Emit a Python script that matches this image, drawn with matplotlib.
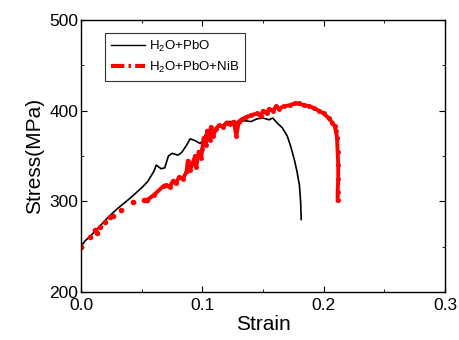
import matplotlib
matplotlib.use("Agg")
import matplotlib.pyplot as plt
from matplotlib.lines import Line2D
from matplotlib.ticker import MultipleLocator, FormatStrFormatter

plt.rcParams['font.family'] = ['Liberation Sans', 'DejaVu Sans']
plt.rcParams['mathtext.fontset'] = 'custom'
plt.rcParams['mathtext.rm'] = 'Liberation Sans'
plt.rcParams['mathtext.default'] = 'regular'

black_x = [0, 0.003, 0.008, 0.015, 0.022, 0.03, 0.04, 0.05, 0.055, 0.06, 0.062, 0.066, 0.069,
           0.072, 0.075, 0.08, 0.083, 0.087, 0.09, 0.094, 0.098, 0.1, 0.103, 0.106, 0.109,
           0.112, 0.116, 0.12, 0.125, 0.13, 0.135, 0.14, 0.145, 0.15, 0.155, 0.158, 0.162,
           0.166, 0.17, 0.173, 0.176, 0.178, 0.18, 0.181, 0.1815]
black_y = [250, 256, 262, 272, 282, 292, 303, 315, 322, 333, 340, 336, 337,
           350, 353, 351, 354, 362, 369, 367, 364, 366, 375, 380, 377,
           381, 383, 388, 388, 387, 389, 388, 391, 392, 390, 392, 386,
           381, 372, 360, 345, 333, 318, 300, 280]

red_x = [0, 0.007, 0.0115, 0.013, 0.016, 0.02, 0.024, 0.026, 0.033, 0.043, 0.052, 0.054,
         0.06, 0.068, 0.07, 0.073, 0.076, 0.078, 0.081, 0.084, 0.087, 0.088, 0.09, 0.092,
         0.094, 0.095, 0.097, 0.099, 0.1, 0.101, 0.103, 0.104, 0.106, 0.107, 0.109, 0.111,
         0.114, 0.117, 0.12, 0.123, 0.126, 0.128, 0.13, 0.133, 0.136, 0.14, 0.145, 0.148,
         0.15, 0.153, 0.155, 0.158, 0.161, 0.163, 0.167, 0.172, 0.176, 0.18, 0.184, 0.188,
         0.192, 0.196, 0.2, 0.204, 0.207, 0.209, 0.21, 0.211, 0.2115, 0.212, 0.212, 0.2115,
         0.2115]
red_y = [250, 261, 268, 265, 272, 277, 283, 284, 291, 299, 302, 301,
         307, 317, 318, 316, 323, 320, 327, 325, 333, 345, 335, 342,
         350, 338, 355, 348, 358, 370, 362, 378, 368, 382, 372, 380,
         384, 382, 387, 385, 388, 372, 388, 391, 393, 395, 397, 394,
         400, 397, 402, 400, 405, 402, 405, 406, 408, 408, 406, 405,
         403, 400, 397, 392, 387, 383, 378, 370, 355, 340, 325, 310,
         301]

labels = ['H$_2$O+PbO', 'H$_2$O+PbO+NiB']

fig = plt.figure(figsize=(4.59, 3.40), dpi=100)
ax = fig.add_axes([0.1765, 0.141, 0.793, 0.8])

ax.plot(black_x, black_y, color='black', lw=1.2)
n_sparse = 12
ax.plot(red_x[:n_sparse], red_y[:n_sparse], ls='none', marker='o', ms=3,
        color='red', mec='red')
ax.plot(red_x[n_sparse - 1:], red_y[n_sparse - 1:], color='red', lw=2.8,
        marker='o', ms=2.5)

ax.set_xlim(0, 0.3)
ax.set_ylim(200, 500)
ax.xaxis.set_major_locator(MultipleLocator(0.1))
ax.xaxis.set_minor_locator(MultipleLocator(0.05))
ax.yaxis.set_major_locator(MultipleLocator(100))
ax.yaxis.set_minor_locator(MultipleLocator(50))
ax.xaxis.set_major_formatter(FormatStrFormatter('%.1f'))
ax.tick_params(which='both', direction='in', top=True, right=True, labelsize=12.5)
ax.tick_params(axis='x', pad=4)
ax.tick_params(axis='y', pad=2)
ax.tick_params(which='major', length=4)
ax.tick_params(which='minor', length=2.5)
for s in ax.spines.values():
    s.set_linewidth(1.0)

ax.set_xlabel('Strain', fontsize=15, labelpad=2)
ax.set_ylabel('Stress(MPa)', fontsize=15, labelpad=4)

handles = [Line2D([], [], color='black', lw=1),
           Line2D([], [], color='red', lw=3, dashes=[3.2, 1.0, 0.6, 1.0])]
leg = ax.legend(handles, labels, loc='upper left', bbox_to_anchor=(0.066, 0.952),
                borderaxespad=0, fontsize=9.5, frameon=True, fancybox=False,
                edgecolor='black', handlelength=2.6, handletextpad=0.25,
                borderpad=0.45, labelspacing=0.45)
leg.get_frame().set_linewidth(0.8)

fig.savefig('out.png', dpi=100)
